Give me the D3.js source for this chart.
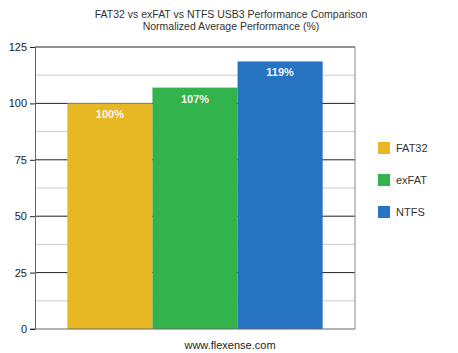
<!DOCTYPE html>
<html>
<head>
<meta charset="utf-8">
<script src="https://cdn.jsdelivr.net/npm/d3@7"></script>
<style>
  body { margin: 0; background: #fff; }
  svg { font-family: "Liberation Sans", Arial, sans-serif; }
</style>
</head>
<body>
<svg id="chart" width="458" height="353"></svg>
<script>
const categories = ["FAT32", "exFAT", "NTFS"]
const values = [100, 107, 118.6]
const colors = ["#e8b724", "#33b34b", "#2673c2"]
const majorTicks = [0, 25, 50, 75, 100, 125]
const minorTicks = [12.5, 37.5, 62.5, 87.5, 112.5]
const titleLines = ["FAT32 vs exFAT vs NTFS USB3 Performance Comparison", "Normalized Average Performance (%)"]

const svg = d3.select("#chart")
const plot = {left: 35, right: 355, top: 47, bottom: 329}

const y = d3.scaleLinear().domain([0, 125]).range([plot.bottom, plot.top])
const x = d3.scaleBand().domain(categories)
    .range([plot.left, plot.right])
    .paddingInner(0)
    .paddingOuter(0.38)

// title
svg.append("g").selectAll("text")
    .data(titleLines)
    .join("text")
    .attr("x", 231)
    .attr("y", (d, i) => 18 + i * 12)
    .attr("text-anchor", "middle")
    .attr("font-size", 10.5)
    .attr("fill", "#333")
    .text(d => d)

// minor gridlines
svg.append("g").selectAll("line")
    .data(minorTicks)
    .join("line")
    .attr("x1", plot.left).attr("x2", plot.right)
    .attr("y1", d => y(d)).attr("y2", d => y(d))
    .attr("stroke", "#ccc")

// major gridlines
svg.append("g").selectAll("line")
    .data(majorTicks.filter(d => d > 0))
    .join("line")
    .attr("x1", plot.left).attr("x2", plot.right)
    .attr("y1", d => y(d)).attr("y2", d => y(d))
    .attr("stroke", "#222")

// bars
svg.append("g").selectAll("rect")
    .data(values)
    .join("rect")
    .attr("x", (d, i) => x(categories[i]))
    .attr("width", x.bandwidth())
    .attr("y", d => y(d))
    .attr("height", d => y(0) - y(d))
    .attr("fill", (d, i) => colors[i])

// value labels
svg.append("g").selectAll("text")
    .data(values)
    .join("text")
    .attr("x", (d, i) => x(categories[i]) + x.bandwidth() / 2)
    .attr("y", d => y(d) + 15)
    .attr("text-anchor", "middle")
    .attr("font-size", 11)
    .attr("font-weight", "bold")
    .attr("fill", "#f4f4f4")
    .text(d => d3.format(".0f")(d) + "%")

// right border
svg.append("line")
    .attr("x1", plot.right).attr("x2", plot.right)
    .attr("y1", plot.top).attr("y2", plot.bottom)
    .attr("stroke", "#888")

// bottom line
svg.append("line")
    .attr("x1", plot.left - 5).attr("x2", plot.right)
    .attr("y1", plot.bottom).attr("y2", plot.bottom)
    .attr("stroke", "#666")

// y axis
const yAxis = d3.axisLeft(y)
    .tickValues(majorTicks)
    .tickSize(5)
    .tickPadding(3)
const yg = svg.append("g")
    .attr("transform", "translate(" + plot.left + ",0)")
    .call(yAxis)
yg.select(".domain").attr("stroke", "#666")
yg.selectAll(".tick line").attr("stroke", "#222")
yg.selectAll(".tick text")
    .attr("font-size", 11)
    .attr("font-family", "Liberation Sans, Arial, sans-serif")
    .attr("fill", "#222")

// legend
const legend = svg.append("g").selectAll("g")
    .data(categories)
    .join("g")
    .attr("transform", (d, i) => "translate(378," + (142 + i * 32) + ")")
legend.append("rect")
    .attr("width", 12).attr("height", 12)
    .attr("fill", (d, i) => colors[i])
legend.append("text")
    .attr("x", 18).attr("y", 10)
    .attr("font-size", 11)
    .attr("fill", "#333")
    .text(d => d)

// watermark
svg.append("text")
    .attr("x", 230).attr("y", 349)
    .attr("text-anchor", "middle")
    .attr("font-size", 11)
    .attr("fill", "#222")
    .text("www.flexense.com")
</script>
</body>
</html>
